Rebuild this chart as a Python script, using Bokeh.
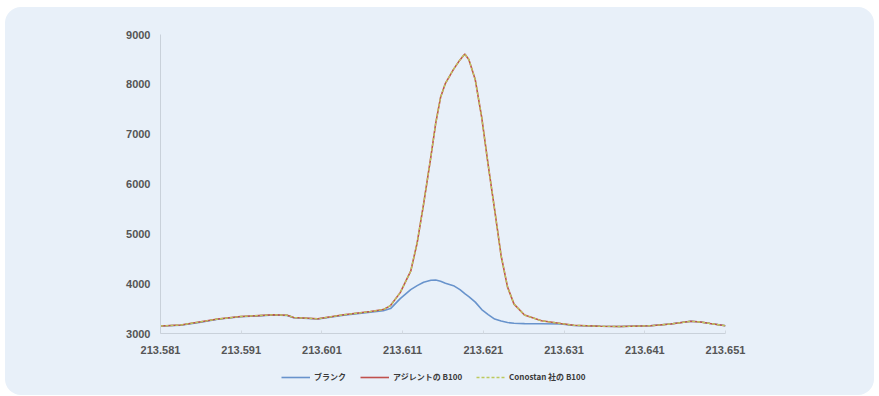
from bokeh.plotting import figure
from bokeh.layouts import column
from bokeh.models import FixedTicker, Legend, LegendItem, NumeralTickFormatter
from bokeh.embed import file_html
from bokeh.resources import INLINE

# Wavelength (nm) and emission intensity for the P 213.618 nm line
wavelength = [213.5810, 213.5835, 213.5860, 213.5881, 213.5909, 213.5950, 213.5967,
              213.5975, 213.6005, 213.6037, 213.6070, 213.6086, 213.6095, 213.6107,
              213.6120, 213.6128, 213.6136, 213.6145, 213.6151, 213.6157, 213.6163,
              213.6173, 213.6181, 213.6187, 213.6192, 213.6200, 213.6208, 213.6216,
              213.6224, 213.6232, 213.6240, 213.6248, 213.6261, 213.6282, 213.6306,
              213.6322, 213.6355, 213.6380, 213.6417, 213.6442, 213.6467, 213.6479,
              213.6491, 213.6510]

blank = [3150, 3165, 3225, 3285, 3335, 3370, 3360,
         3315, 3290, 3365, 3425, 3455, 3500, 3700,
         3880, 3960, 4030, 4070, 4075, 4050, 4010,
         3960, 3880, 3800, 3740, 3630, 3480, 3380,
         3290, 3250, 3220, 3205, 3198, 3195, 3190,
         3160, 3145, 3140, 3155, 3190, 3245, 3230,
         3200, 3155]

agilent_b100 = [3150, 3170, 3235, 3290, 3340, 3375, 3365,
                3320, 3295, 3375, 3440, 3480, 3560, 3820,
                4250, 4820, 5600, 6550, 7220, 7740, 8020,
                8300, 8490, 8610, 8500, 8090, 7330, 6380,
                5480, 4560, 3930, 3590, 3370, 3255, 3200,
                3165, 3145, 3140, 3155, 3190, 3245, 3230,
                3200, 3155]

conostan_b100 = [3150, 3170, 3235, 3290, 3340, 3375, 3365,
                 3320, 3295, 3375, 3440, 3480, 3560, 3820,
                 4250, 4820, 5600, 6550, 7220, 7740, 8020,
                 8300, 8490, 8610, 8500, 8090, 7330, 6380,
                 5480, 4560, 3930, 3590, 3370, 3255, 3200,
                 3165, 3145, 3140, 3155, 3190, 3245, 3230,
                 3200, 3155]

x_ticks = [213.581, 213.591, 213.601, 213.611, 213.621, 213.631, 213.641, 213.651]
y_ticks = [3000, 4000, 5000, 6000, 7000, 8000, 9000]

series_names = ["ブランク", "アジレントの B100", "Conostan 社の B100"]

PANEL = "#e8f0f9"
TICK_FONT = "Liberation Sans"
BLUE, RED, YELLOW = "#6893cc", "#c0504d", "#bcc95e"
YELLOW_DASH = "3 2"

# main chart
p = figure(width=869, height=353,
           x_range=(213.581, 213.651), y_range=(3000, 9000),
           output_backend="svg", toolbar_location=None,
           min_border_left=155, min_border_right=149,
           min_border_top=27, min_border_bottom=27,
           background_fill_color=None, border_fill_color=None,
           outline_line_color=None)

p.xgrid.visible = False
p.ygrid.visible = False

for ax in (p.xaxis[0], p.yaxis[0]):
    ax.major_label_text_font = TICK_FONT
    ax.major_label_text_font_size = "11px"
    ax.major_label_text_font_style = "bold"
    ax.major_label_text_color = "#555555"
    ax.minor_tick_line_color = None
    ax.major_tick_out = 0
    ax.axis_line_color = "#c9d1da"

p.xaxis.ticker = FixedTicker(ticks=x_ticks)
p.xaxis.formatter = NumeralTickFormatter(format="0.000")
p.xaxis.major_tick_in = 3
p.xaxis.major_tick_line_color = "#d2d9e1"
p.xaxis.major_label_standoff = 12

p.yaxis.ticker = FixedTicker(ticks=y_ticks)
p.yaxis.major_tick_line_color = None
p.yaxis.major_label_standoff = 10

p.line(wavelength, blank, line_color=BLUE, line_width=1.6)
p.line(wavelength, agilent_b100, line_color=RED, line_width=1.6)
p.line(wavelength, conostan_b100, line_color=YELLOW, line_width=1.4, line_dash=YELLOW_DASH)

# legend strip under the chart (its frame lines up with the chart's frame)
lg = figure(width=869, height=35, x_range=(0, 1), y_range=(0, 1),
            output_backend="svg", toolbar_location=None,
            x_axis_location=None, y_axis_location=None,
            min_border=0, background_fill_color=None, border_fill_color=None,
            outline_line_color=None)
lg.xgrid.visible = False
lg.ygrid.visible = False
# one-point sources draw no visible line; they only carry the swatch styles
k_blank = lg.line([0], [0], line_color=BLUE, line_width=1.6)
k_agilent = lg.line([0], [0], line_color=RED, line_width=1.6)
k_conostan = lg.line([0], [0], line_color=YELLOW, line_width=1.4, line_dash=YELLOW_DASH)

legend = Legend(items=[LegendItem(label=series_names[0], renderers=[k_blank]),
                       LegendItem(label=series_names[1], renderers=[k_agilent]),
                       LegendItem(label=series_names[2], renderers=[k_conostan])],
                orientation="horizontal", location=(121, 13),
                label_text_font="Noto Sans CJK JP", label_text_font_size="8px",
                label_text_font_style="bold", label_text_color="#3a3a3a",
                glyph_width=29, glyph_height=10, label_standoff=4, spacing=14,
                padding=4, margin=0, border_line_color=None,
                background_fill_alpha=0)
lg.add_layout(legend, "center")

# rounded light-blue panel behind both parts
panel = column(p, lg, spacing=0, margin=(7, 0, 0, 5),
               styles={"background-color": PANEL, "border-radius": "16px"})

open("out.html", "w").write(file_html(panel, INLINE))
